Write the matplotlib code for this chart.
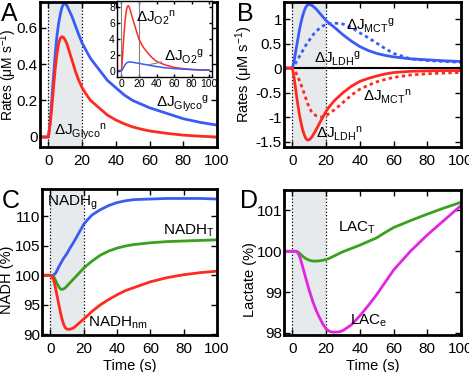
import matplotlib
matplotlib.use("Agg")
import matplotlib.pyplot as plt

plt.rcParams['font.family'] = ['Liberation Sans', 'DejaVu Sans']
plt.rcParams['mathtext.fontset'] = 'custom'
plt.rcParams['mathtext.rm'] = 'Liberation Sans'
plt.rcParams['mathtext.it'] = 'Liberation Sans'

# ---------------- data ----------------
# Panel A
tA = [-5, 0, 1, 2, 3, 4, 5, 6, 7, 8, 9, 10, 11, 12, 14, 16, 18, 20, 22, 25, 30, 35, 40, 45, 50, 55, 60, 70, 80, 90, 100]
glyco_g = [0, 0, 0.08, 0.2, 0.33, 0.45, 0.55, 0.62, 0.67, 0.71, 0.73, 0.73, 0.72, 0.70, 0.66, 0.61, 0.56, 0.515, 0.48, 0.43, 0.37, 0.31, 0.27, 0.23, 0.20, 0.18, 0.16, 0.13, 0.10, 0.08, 0.065]
glyco_n = [0, 0, 0.07, 0.16, 0.27, 0.37, 0.45, 0.51, 0.54, 0.55, 0.545, 0.53, 0.51, 0.48, 0.42, 0.36, 0.31, 0.27, 0.24, 0.20, 0.16, 0.12, 0.093, 0.072, 0.055, 0.043, 0.033, 0.02, 0.01, 0.004, 0.0]
# Panel A inset
tI = [-5, 0, 1, 2, 3, 4, 5, 6, 7, 8, 9, 10, 12, 15, 18, 20, 25, 30, 35, 40, 50, 60, 70, 80, 90, 100]
o2_n = [0, 0, 1.2, 3.0, 4.6, 6.0, 7.0, 7.7, 8.05, 8.1, 7.9, 7.6, 6.8, 5.7, 4.6, 3.9, 2.9, 2.2, 1.6, 1.15, 0.7, 0.4, 0.25, 0.15, 0.09, 0.05]
o2_g = [0, 0, 0.1, 0.3, 0.5, 0.7, 0.85, 0.95, 1.02, 1.06, 1.08, 1.07, 1.05, 1.0, 0.94, 0.9, 0.8, 0.7, 0.6, 0.5, 0.35, 0.25, 0.18, 0.12, 0.08, 0.06]
# Panel B
tB = [-5, 0, 1, 2, 3, 4, 5, 6, 7, 8, 9, 10, 11, 12, 14, 16, 18, 20, 22, 25, 30, 35, 40, 45, 50, 55, 60, 70, 80, 90, 100]
ldh_g = [0, 0, 0.15, 0.35, 0.55, 0.75, 0.92, 1.06, 1.17, 1.25, 1.29, 1.30, 1.29, 1.27, 1.21, 1.13, 1.05, 0.97, 0.91, 0.83, 0.68, 0.55, 0.44, 0.36, 0.30, 0.26, 0.23, 0.19, 0.17, 0.15, 0.135]
mct_g = [0, 0, 0.05, 0.11, 0.17, 0.23, 0.29, 0.35, 0.41, 0.47, 0.52, 0.57, 0.62, 0.67, 0.75, 0.81, 0.86, 0.89, 0.91, 0.92, 0.90, 0.83, 0.72, 0.62, 0.51, 0.40, 0.30, 0.19, 0.155, 0.135, 0.12]
ldh_n = [0, 0, -0.2, -0.45, -0.7, -0.92, -1.1, -1.25, -1.36, -1.44, -1.47, -1.46, -1.43, -1.38, -1.26, -1.13, -1.0, -0.88, -0.78, -0.66, -0.5, -0.37, -0.27, -0.21, -0.16, -0.12, -0.09, -0.065, -0.055, -0.05, -0.05]
mct_n = [0, 0, -0.04, -0.09, -0.16, -0.24, -0.33, -0.42, -0.52, -0.62, -0.72, -0.80, -0.87, -0.92, -0.97, -0.99, -1.0, -0.97, -0.92, -0.85, -0.70, -0.55, -0.43, -0.35, -0.28, -0.23, -0.19, -0.14, -0.115, -0.1, -0.09]
# Panel C
tC = [-5, 0, 1, 2, 3, 4, 5, 6, 7, 8, 9, 10, 11, 12, 14, 16, 18, 20, 22, 25, 30, 35, 40, 45, 50, 60, 70, 80, 90, 100]
nadh_g = [100, 100, 100, 100.05, 100.3, 100.8, 101.4, 101.9, 102.4, 102.9, 103.3, 103.7, 104.2, 104.7, 105.6, 106.6, 107.6, 108.6, 109.3, 110.2, 111.1, 111.8, 112.3, 112.6, 112.8, 112.9, 113.0, 113.0, 113.0, 112.9]
nadh_t = [100, 100, 99.95, 99.8, 99.2, 98.6, 98.1, 97.7, 97.6, 97.7, 97.9, 98.2, 98.5, 98.8, 99.4, 100.0, 100.6, 101.2, 101.7, 102.4, 103.4, 104.1, 104.6, 104.95, 105.2, 105.5, 105.7, 105.8, 105.9, 106.0]
nadh_nm = [100, 100, 99.8, 99.2, 98.0, 96.6, 95.2, 93.8, 92.6, 91.7, 91.1, 90.9, 90.85, 90.9, 91.1, 91.6, 92.1, 92.6, 93.1, 93.9, 95.0, 95.9, 96.7, 97.4, 97.9, 98.9, 99.6, 100.1, 100.45, 100.7]
# Panel D
tD = [-5, 0, 2, 3, 4, 5, 6, 7, 8, 9, 10, 12, 14, 16, 18, 20, 22, 24, 26, 28, 30, 35, 40, 45, 50, 55, 60, 70, 80, 90, 100]
lac_t = [100, 100, 100, 99.99, 99.96, 99.92, 99.88, 99.85, 99.82, 99.8, 99.78, 99.76, 99.76, 99.765, 99.78, 99.8, 99.83, 99.87, 99.91, 99.95, 99.99, 100.07, 100.15, 100.24, 100.33, 100.46, 100.58, 100.75, 100.91, 101.06, 101.2]
lac_e = [100, 100, 100, 99.97, 99.9, 99.78, 99.63, 99.48, 99.33, 99.18, 99.04, 98.78, 98.56, 98.38, 98.22, 98.1, 98.04, 98.02, 98.02, 98.03, 98.06, 98.2, 98.42, 98.67, 98.94, 99.24, 99.54, 100.0, 100.4, 100.76, 101.12]

# ---------------- styling ----------------
W, H = 469, 372
fig = plt.figure(figsize=(W / 100, H / 100), dpi=100)

BLUE = '#3a5cf5'
RED = '#ff2a1f'
GREEN = '#3aa01e'
MAG = '#e026e0'
SHADE = '#e6eaec'
TFS = 11      # tick labels
LFS = 10.5    # axis labels
AFS = 11      # curve labels


def axes_px(l, t, r, b):
    return fig.add_axes([l / W, 1 - b / H, (r - l) / W, (b - t) / H])


def style(ax, lw=2.0, fs=TFS, tl=4):
    for s in ax.spines.values():
        s.set_linewidth(lw)
    ax.tick_params(direction='in', top=True, right=True, length=tl, width=1,
                   labelsize=fs)
    ax.tick_params(axis='y', pad=1.5)
    ax.tick_params(axis='x', pad=5)


def shade(ax):
    ax.axvspan(0, 20, color=SHADE, zorder=0, lw=0)
    ax.axvline(0, color='k', ls=':', lw=0.9, zorder=1)
    ax.axvline(20, color='k', ls=':', lw=0.9, zorder=1)


xt = [0, 20, 40, 60, 80, 100]

# Panel A
axA = axes_px(40, 2, 217, 147)
shade(axA)
axA.plot(tA, glyco_g, color=BLUE, lw=2)
axA.plot(tA, glyco_n, color=RED, lw=2)
axA.set_xlim(-5, 100)
axA.set_ylim(-0.055, 0.74)
axA.set_xticks(xt)
axA.set_yticks([0, 0.2, 0.4, 0.6])
axA.set_yticklabels(['0', '0.2', '0.4', '0.6'])
axA.set_ylabel('Rates (μM s$^{-1}$)', fontsize=10)
axA.yaxis.set_label_coords(-0.118, 0.5)
style(axA)
axA.text(64, 0.165, r'$\Delta$J$_{\mathrm{Glyco}}$$^{\mathrm{g}}$', fontsize=AFS)
axA.text(3.6, 0.011, r'$\Delta$J$_{\mathrm{Glyco}}$$^{\mathrm{n}}$', fontsize=AFS)

# inset
axI = axes_px(117, 1, 212, 77)
axI.axvline(0, color='gray', lw=0.8)
axI.axvline(20, color='gray', lw=0.8)
axI.plot(tI, o2_n, color=RED, lw=1.1)
axI.plot(tI, o2_g, color=BLUE, lw=1.1)
axI.set_xlim(-5, 103)
axI.set_ylim(-0.8, 8.7)
axI.set_xticks(xt)
axI.set_yticks([0, 2, 4, 6, 8])
style(axI, lw=1.0, fs=7.5, tl=2.5)
axI.tick_params(axis='both', pad=1.5)
axI.text(16.3, 6.1, r'$\Delta$J$_{\mathrm{O2}}$$^{\mathrm{n}}$', fontsize=AFS)
axI.annotate(r'$\Delta$J$_{\mathrm{O2}}$$^{\mathrm{g}}$', xy=(30, 0.7), xytext=(49, 1.15),
             fontsize=AFS, arrowprops=dict(arrowstyle='-', color='gray', lw=0.8,
                                          shrinkA=0, shrinkB=0))

# Panel B
axB = axes_px(284, 2, 461, 147)
shade(axB)
axB.axhline(0, color='k', lw=1.5, zorder=1)
axB.plot(tB, ldh_g, color=BLUE, lw=2)
axB.plot(tB, mct_g, color=BLUE, lw=2, ls=(0, (1.2, 1.2)))
axB.plot(tB, ldh_n, color=RED, lw=2)
axB.plot(tB, mct_n, color=RED, lw=2, ls=(0, (1.2, 1.2)))
axB.set_xlim(-5, 100)
axB.set_ylim(-1.61, 1.35)
axB.set_xticks(xt)
axB.set_yticks([-1.5, -1, -0.5, 0, 0.5, 1])
axB.set_yticklabels(['-1.5', '-1', '-0.5', '0', '0.5', '1'])
axB.set_ylabel('Rates (μM s$^{-1}$)', fontsize=LFS)
axB.yaxis.set_label_coords(-0.165, 0.5)
style(axB)
axB.text(32, 0.77, r'$\Delta$J$_{\mathrm{MCT}}$$^{\mathrm{g}}$', fontsize=AFS)
axB.text(13, 0.1, r'$\Delta$J$_{\mathrm{LDH}}$$^{\mathrm{g}}$', fontsize=AFS)
axB.text(41.8, -0.68, r'$\Delta$J$_{\mathrm{MCT}}$$^{\mathrm{n}}$', fontsize=AFS)
axB.text(14, -1.43, r'$\Delta$J$_{\mathrm{LDH}}$$^{\mathrm{n}}$', fontsize=AFS)

# Panel C
axC = axes_px(42, 189, 217, 335)
shade(axC)
axC.plot(tC, nadh_g, color=BLUE, lw=2)
axC.plot(tC, nadh_t, color=GREEN, lw=2)
axC.plot(tC, nadh_nm, color=RED, lw=2)
axC.set_xlim(-5, 100)
axC.set_ylim(89.9, 114.6)
axC.set_xticks(xt)
axC.set_yticks([90, 95, 100, 105, 110])
axC.set_ylabel('NADH (%)', fontsize=LFS)
axC.yaxis.set_label_coords(-0.16, 0.38)
axC.set_xlabel('Time (s)', fontsize=LFS, labelpad=2)
style(axC)
axC.text(-2.2, 111.8, r'NADH$_{\mathrm{g}}$', fontsize=AFS)
axC.text(67.6, 106.9, r'NADH$_{\mathrm{T}}$', fontsize=AFS)
axC.text(22.3, 91.3, r'NADH$_{\mathrm{nm}}$', fontsize=AFS)

# Panel D
axD = axes_px(284, 190, 461, 335)
shade(axD)
axD.plot(tD, lac_t, color=GREEN, lw=2)
axD.plot(tD, lac_e, color=MAG, lw=2)
axD.set_xlim(-5, 100)
axD.set_ylim(97.95, 101.5)
axD.set_xticks(xt)
axD.set_yticks([98, 99, 100, 101])
axD.set_ylabel('Lactate (%)', fontsize=LFS)
axD.yaxis.set_label_coords(-0.155, 0.38)
axD.set_xlabel('Time (s)', fontsize=LFS, labelpad=2)
style(axD)
axD.text(27.1, 100.47, r'LAC$_{\mathrm{T}}$', fontsize=AFS)
axD.text(34, 98.2, r'LAC$_{\mathrm{e}}$', fontsize=AFS)

# panel letters
for lbl, x, y in [('A', 1, 2), ('B', 237, 2), ('C', 2, 189), ('D', 240, 189)]:
    fig.text(x / W, 1 - y / H, lbl, fontsize=18, va='top', ha='left')

fig.savefig('out.png', dpi=100)
